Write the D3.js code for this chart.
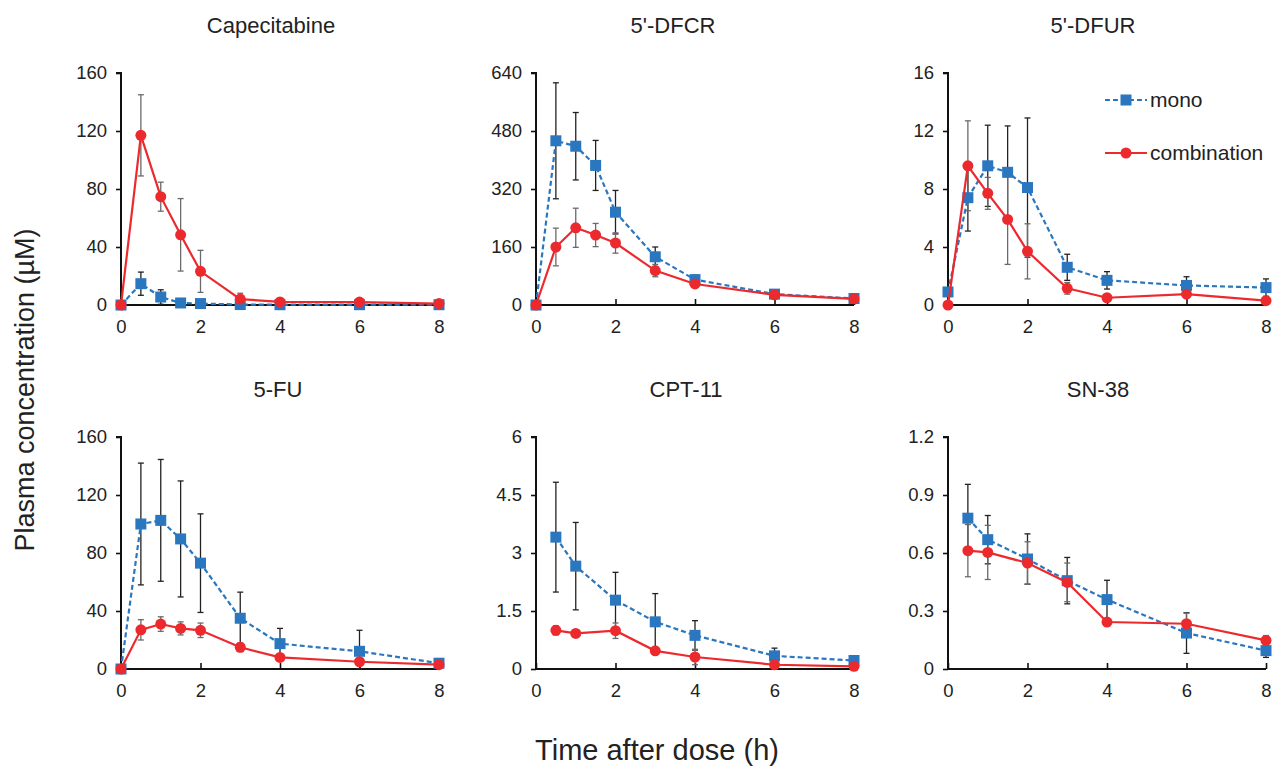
<!DOCTYPE html>
<html>
<head>
<meta charset="utf-8">
<script src="https://cdn.jsdelivr.net/npm/d3@7"></script>
<style>
  body { margin: 0; background: #fff; }
  svg { font-family: "Liberation Sans", Arial, sans-serif; }
</style>
</head>
<body>
<script>
const svgWidth = 1274
const svgHeight = 769

const colorMono = "#2A77C0"
const colorComb = "#EC2A2E"

// panel layout
const colX = [121, 536, 948]
const rowY = [73, 437]
const panelW = 318
const panelH = 232
// titles sit a little left of the panel centre in the original
const titleDx = [-9, -22, -14, -2, -9, -9]

const drugs = ["Capecitabine", "5'-DFCR", "5'-DFUR", "5-FU", "CPT-11", "SN-38"]
const yMax = [160, 640, 16, 160, 6, 1.2]
const yTicks = [
    [0, 40, 80, 120, 160],
    [0, 160, 320, 480, 640],
    [0, 4, 8, 12, 16],
    [0, 40, 80, 120, 160],
    [0, 1.5, 3, 4.5, 6],
    [0, 0.3, 0.6, 0.9, 1.2]
]
const xTicks = [0, 2, 4, 6, 8]

const timesFull = [0, 0.5, 1, 1.5, 2, 3, 4, 6, 8]
const timesShort = [0.5, 1, 2, 3, 4, 6, 8]

// mean / SD, per drug
const capeMono = [0, 14.7, 5.5, 1.4, 1, 0.3, 0.2, 0.2, 0.2]
const capeMonoSd = [0, 8, 5, 0.8, 0.5, 0.2, 0.1, 0.1, 0.1]
const capeComb = [0, 117, 74.7, 48.4, 23.2, 4.1, 2.1, 2, 1]
const capeCombSd = [0, 28, 10, 25, 14.5, 4, 1, 1, 0.5]

const dfcrMono = [0, 453, 438, 385, 256, 133, 70, 30, 18]
const dfcrMonoSd = [0, 160, 93, 69, 60, 27, 12, 4, 3]
const dfcrComb = [0, 160, 213, 193, 171, 95, 58, 28, 17]
const dfcrCombSd = [0, 52, 54, 32, 28, 17, 5, 4, 2]

const dfurMono = [0.9, 7.4, 9.6, 9.15, 8.1, 2.6, 1.7, 1.35, 1.2]
const dfurMonoSd = [0, 2.3, 2.8, 3.2, 4.8, 0.9, 0.6, 0.6, 0.6]
const dfurComb = [0, 9.6, 7.7, 5.9, 3.7, 1.15, 0.5, 0.75, 0.3]
const dfurCombSd = [0, 3.1, 1.1, 3.1, 1.9, 0.4, 0.1, 0.2, 0.15]

const fuMono = [0, 100, 102.5, 89.7, 73, 35, 17.5, 12.2, 4]
const fuMonoSd = [0, 42, 42, 40, 34, 18, 10.5, 14.5, 1]
const fuComb = [0, 27, 31, 28, 26.7, 15, 8, 5, 3]
const fuCombSd = [0, 7, 5, 4.5, 5, 3, 2, 1, 1]

const cptMono = [3.41, 2.66, 1.78, 1.22, 0.87, 0.34, 0.22]
const cptMonoSd = [1.42, 1.13, 0.72, 0.73, 0.38, 0.2, 0.05]
const cptComb = [1.0, 0.92, 0.99, 0.47, 0.31, 0.11, 0.07]
const cptCombSd = [0.12, 0.05, 0.2, 0.05, 0.2, 0.03, 0.02]

const snMono = [0.78, 0.669, 0.569, 0.457, 0.359, 0.186, 0.095]
const snMonoSd = [0.175, 0.125, 0.13, 0.12, 0.1, 0.105, 0.035]
const snComb = [0.612, 0.603, 0.548, 0.448, 0.243, 0.234, 0.148]
const snCombSd = [0.135, 0.14, 0.11, 0.1, 0.01, 0.055, 0.025]

const panels = [
    { times: timesFull, mono: capeMono, monoSd: capeMonoSd, comb: capeComb, combSd: capeCombSd },
    { times: timesFull, mono: dfcrMono, monoSd: dfcrMonoSd, comb: dfcrComb, combSd: dfcrCombSd },
    { times: timesFull, mono: dfurMono, monoSd: dfurMonoSd, comb: dfurComb, combSd: dfurCombSd },
    { times: timesFull, mono: fuMono, monoSd: fuMonoSd, comb: fuComb, combSd: fuCombSd },
    { times: timesShort, mono: cptMono, monoSd: cptMonoSd, comb: cptComb, combSd: cptCombSd },
    { times: timesShort, mono: snMono, monoSd: snMonoSd, comb: snComb, combSd: snCombSd }
]

const svg = d3.select("body").append("svg")
    .attr("width", svgWidth)
    .attr("height", svgHeight)

panels.forEach((p, i) => {
    const g = svg.append("g")
        .attr("transform", `translate(${colX[i % 3]}, ${rowY[Math.floor(i / 3)]})`)

    const x = d3.scaleLinear().domain([0, 8]).range([0, panelW])
    const y = d3.scaleLinear().domain([0, yMax[i]]).range([panelH, 0])

    g.append("text")
        .attr("x", panelW / 2 + titleDx[i])
        .attr("y", -40)
        .attr("text-anchor", "middle")
        .attr("font-size", 22)
        .attr("fill", "#222")
        .text(drugs[i])

    const yAxis = g.append("g")
        .call(d3.axisLeft(y).tickValues(yTicks[i]).tickSize(5).tickPadding(9).tickFormat(d => d))
    const xAxis = g.append("g")
        .attr("transform", `translate(0, ${panelH})`)
        .call(d3.axisBottom(x).tickValues(xTicks).tickSize(-6).tickPadding(15))

    ;[yAxis, xAxis].forEach(a => {
        a.select(".domain").attr("stroke", "#111").attr("stroke-width", 2)
        a.selectAll(".tick line").attr("stroke", "#111").attr("stroke-width", 1.6)
        a.selectAll(".tick text").attr("font-size", 18.5).attr("fill", "#222")
            .attr("font-family", "'Liberation Sans', Arial, sans-serif")
    })
    xAxis.select(".domain").attr("d", `M0,0H${panelW}`)
    yAxis.select(".domain").attr("d", `M-5,0H0V${panelH}`)

    const series = [
        { mean: p.mono, sd: p.monoSd, color: colorMono, bar: "#222", dash: "5,3", shape: "square" },
        { mean: p.comb, sd: p.combSd, color: colorComb, bar: "#6a6a6a", dash: null, shape: "circle" }
    ]

    series.forEach(s => {
        const pts = p.times.map((t, k) => ({ t: t, v: s.mean[k], sd: s.sd[k] }))

        // error bars
        const eb = g.append("g")
            .attr("stroke", s.bar)
            .attr("stroke-width", 1.3)
        pts.filter(d => d.sd > 0).forEach(d => {
            const cx = x(d.t)
            const y1 = y(d.v + d.sd)
            const y2 = y(Math.max(d.v - d.sd, 0))
            eb.append("line").attr("x1", cx).attr("x2", cx).attr("y1", y1).attr("y2", y2)
            eb.append("line").attr("x1", cx - 3).attr("x2", cx + 3).attr("y1", y1).attr("y2", y1)
            eb.append("line").attr("x1", cx - 3).attr("x2", cx + 3).attr("y1", y2).attr("y2", y2)
        })
    })

    series.forEach(s => {
        const pts = p.times.map((t, k) => ({ t: t, v: s.mean[k] }))
        const line = d3.line().x(d => x(d.t)).y(d => y(d.v))

        g.append("path")
            .attr("d", line(pts))
            .attr("fill", "none")
            .attr("stroke", s.color)
            .attr("stroke-width", 2.2)
            .attr("stroke-dasharray", s.dash)

        if (s.shape === "square") {
            g.selectAll(null).data(pts).enter().append("rect")
                .attr("x", d => x(d.t) - 5.5)
                .attr("y", d => y(d.v) - 5.5)
                .attr("width", 11)
                .attr("height", 11)
                .attr("fill", s.color)
        } else {
            g.selectAll(null).data(pts).enter().append("circle")
                .attr("cx", d => x(d.t))
                .attr("cy", d => y(d.v))
                .attr("r", 5.5)
                .attr("fill", s.color)
        }
    })
})

// legend in the 5'-DFUR panel
const legend = svg.append("g").attr("transform", "translate(1105, 100)")
const legendItems = [
    { label: "mono", color: colorMono, dash: "5,3", shape: "square" },
    { label: "combination", color: colorComb, dash: null, shape: "circle" }
]
legendItems.forEach((d, k) => {
    const row = legend.append("g").attr("transform", `translate(0, ${k * 53})`)
    row.append("line")
        .attr("x1", 0).attr("x2", 42)
        .attr("stroke", d.color)
        .attr("stroke-width", 2.2)
        .attr("stroke-dasharray", d.dash)
    if (d.shape === "square") {
        row.append("rect").attr("x", 15.5).attr("y", -5.5).attr("width", 11).attr("height", 11).attr("fill", d.color)
    } else {
        row.append("circle").attr("cx", 21).attr("r", 5.5).attr("fill", d.color)
    }
    row.append("text")
        .attr("x", 45)
        .attr("y", 7)
        .attr("font-size", 21)
        .attr("fill", "#222")
        .text(d.label)
})

svg.append("text")
    .attr("x", 657)
    .attr("y", 760)
    .attr("text-anchor", "middle")
    .attr("font-size", 29)
    .attr("fill", "#222")
    .text("Time after dose (h)")

svg.append("text")
    .attr("transform", "translate(34, 390) rotate(-90)")
    .attr("text-anchor", "middle")
    .attr("font-size", 27)
    .attr("fill", "#222")
    .text("Plasma concentration (µM)")
</script>
</body>
</html>
